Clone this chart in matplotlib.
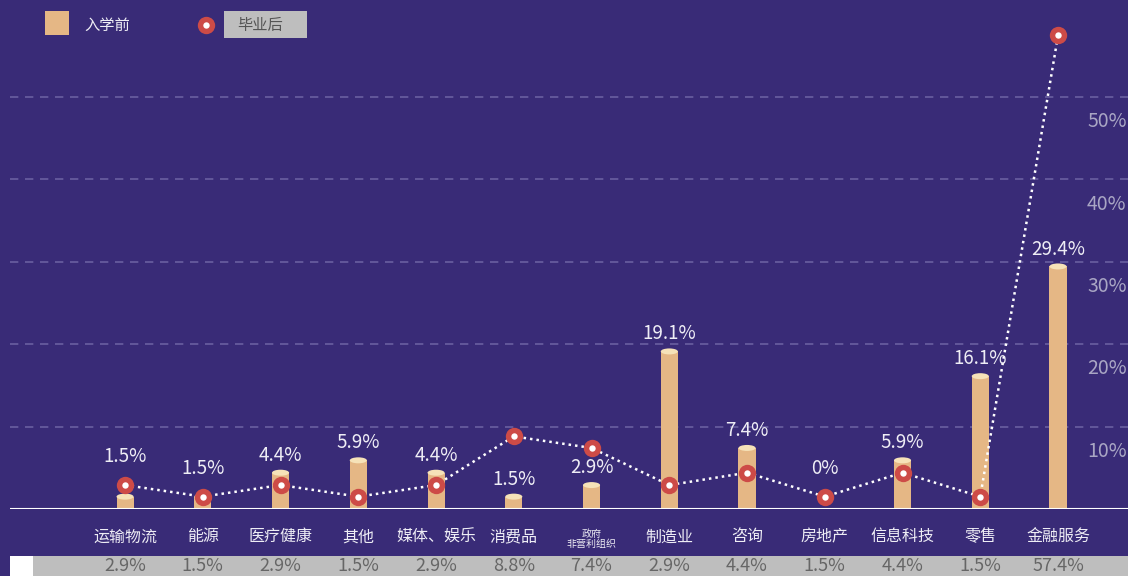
import matplotlib
matplotlib.use("Agg")
import matplotlib.pyplot as plt
from matplotlib.patches import Rectangle, Ellipse
from matplotlib.lines import Line2D
from matplotlib.transforms import blended_transform_factory, offset_copy

plt.rcParams['font.family'] = ['Noto Sans CJK SC', 'DejaVu Sans']

categories = ["运输物流", "能源", "医疗健康", "其他", "媒体、娱乐", "消费品", "政府\n非营利组织",
              "制造业", "咨询", "房地产", "信息科技", "零售", "金融服务"]
before = [1.5, 1.5, 4.4, 5.9, 4.4, 1.5, 2.9, 19.1, 7.4, 0.0, 5.9, 16.1, 29.4]
after = [2.9, 1.5, 2.9, 1.5, 2.9, 8.8, 7.4, 2.9, 4.4, 1.5, 4.4, 1.5, 57.4]
yticks = [10, 20, 30, 40, 50]
series_names = ["入学前", "毕业后"]

BG = "#392B77"
TAN = "#E5B785"
TAN_TOP = "#F6E2B8"
RED = "#CD4B47"
TXT = "#EEEDF5"
GRAY = "#BEBEBE"

W, H = 1128, 576
K = 8.25  # px per percent
fig = plt.figure(figsize=(W / 100, H / 100), dpi=100, facecolor=BG)
ax = fig.add_axes([10 / W, (H - 509) / H, 1 - 10 / W, 509 / H])
ax.set_facecolor(BG)

x = list(range(len(categories)))
ax.set_xlim(-1.48, 12.9)
ax.set_ylim(0, 509 / K)

# grid
for v in yticks:
    ax.axhline(v, color="#6A5FA0", lw=1.2, ls=(0, (5, 4)), zorder=1)
ax.axhline(0, color="white", lw=1.5, zorder=5)

# bars as cylinders
bw = 0.22
eh = 6 / K
for xi, v, d in zip(x, before, after):
    if v > 0:
        ax.add_patch(Rectangle((xi - bw / 2, 0), bw, v, facecolor=TAN, edgecolor="none", zorder=2))
        ax.add_patch(Ellipse((xi, v), bw, eh, facecolor=TAN_TOP, edgecolor="none", zorder=2.1))
    # put the label above the marker when the marker sits on the bar top
    gap_px = (d - v) * K
    if -10 < gap_px < 30:
        base, off = d, 13
    else:
        base, off = v, 5
    lab_tr = offset_copy(ax.transData, fig=fig, x=0, y=off, units="points")
    ax.text(xi, base, f"{v:g}%", transform=lab_tr, ha="center", va="bottom",
            color=TXT, fontsize=13.5, zorder=6)

# dotted line + markers
ax.plot(x, after, color="white", lw=1.8, ls=(0, (1, 1.6)), zorder=3)
ax.plot(x, after, ls="none", marker="o", ms=12.5, mfc=RED, mec="none", zorder=4)
ax.plot(x, after, ls="none", marker="o", ms=4.6, mfc="white", mec="none", zorder=4.5)

# right value labels (offset below grid lines)
for v in yticks:
    tr = offset_copy(blended_transform_factory(ax.transAxes, ax.transData), fig=fig, x=-1, y=-25 * 0.72, units="points")
    ax.text(1.0, v, f"{v}%", transform=tr, ha="right", va="center", color="#A9A6C4", fontsize=14)

# x labels
ax.set_xticks(x)
ax.set_xticklabels(categories)
ax.tick_params(axis="x", length=0, pad=14, colors=TXT, labelsize=11.5)
for lab in ax.get_xticklabels():
    if "\n" in lab.get_text():
        lab.set_fontsize(7.2)
        lab.set_linespacing(1.1)
ax.set_yticks([])
for s in ax.spines.values():
    s.set_visible(False)

# bottom table
fig.add_artist(Rectangle((10 / W, 0), 23 / W, 20 / H, transform=fig.transFigure, facecolor="white", edgecolor="none", zorder=0.5))
fig.add_artist(Rectangle((33 / W, 0), 1 - 33 / W, 20 / H, transform=fig.transFigure, facecolor=GRAY, edgecolor="none", zorder=0.5))
btr = blended_transform_factory(ax.transData, fig.transFigure)
for xi, v in zip(x, after):
    fig.text(xi, (H - 566) / H, f"{v:g}%", transform=btr, ha="center", va="center", color="#666666",
             fontsize=13, zorder=3)

# legend
fig.add_artist(Rectangle((45 / W, (H - 35) / H), 24 / W, 24 / H, transform=fig.transFigure, facecolor=TAN, edgecolor="none"))
fig.text(84 / W, (H - 25) / H, series_names[0], color=TXT, fontsize=11, ha="left", va="center")
fig.add_artist(Line2D([206 / W], [(H - 25) / H], transform=fig.transFigure, marker="o", ms=12.5, mfc=RED, mec="none"))
fig.add_artist(Line2D([206 / W], [(H - 25) / H], transform=fig.transFigure, marker="o", ms=4.6, mfc="white", mec="none"))
fig.add_artist(Rectangle((224 / W, (H - 38) / H), 83 / W, 27 / H, transform=fig.transFigure, facecolor=GRAY, edgecolor="none"))
fig.text(237 / W, (H - 25) / H, series_names[1], color="#555555", fontsize=11, ha="left", va="center")

fig.savefig("out.png", dpi=100, facecolor=BG)
